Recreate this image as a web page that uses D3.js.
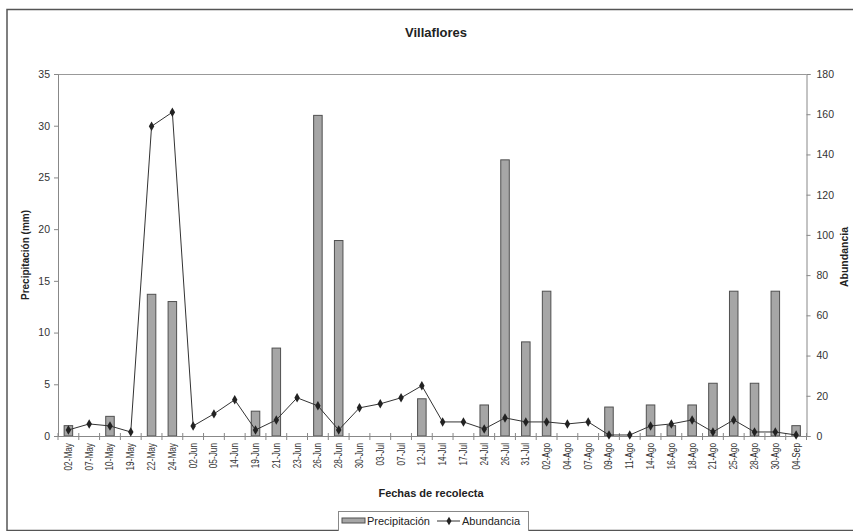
<!DOCTYPE html>
<html><head><meta charset="utf-8">
<script src="https://cdn.jsdelivr.net/npm/d3@7"></script>
<style>body{margin:0;background:#fff}svg{display:block;font-family:"Liberation Sans",Arial,sans-serif}</style>
</head><body>
<svg id="c" width="853" height="531"></svg>
<script>
const categories = ["02-May","07-May","10-May","19-May","22-May","24-May","02-Jun","05-Jun","14-Jun","19-Jun","21-Jun","23-Jun","26-Jun","28-Jun","30-Jun","03-Jul","07-Jul","12-Jul","14-Jul","17-Jul","24-Jul","26-Jul","31-Jul","02-Ago","04-Ago","07-Ago","09-Ago","11-Ago","14-Ago","16-Ago","18-Ago","21-Ago","25-Ago","28-Ago","30-Ago","04-Sep"];
const precipitacion = [1.0,0,1.9,0,13.7,13.0,0,0,0,2.4,8.5,0,31.0,18.9,0,0,0,3.6,0,0,3.0,26.7,9.1,14.0,0,0,2.8,0,3.0,1.0,3.0,5.1,14.0,5.1,14.0,1.0];
const abundancia = [3,6,5,2,154,161,5,11,18,3,8,19,15,3,14,16,19,25,7,7,3.5,9,7,7,6,7,0.5,0.5,5,6,8,2,8,2,2,0.5];
const leftTicks = [0,5,10,15,20,25,30,35];
const rightTicks = [0,20,40,60,80,100,120,140,160,180];

const svg = d3.select("#c");
const L = 58, R = 806.5, T = 74, B = 436;

// outer border
svg.append("rect").attr("x",7).attr("y",9.5).attr("width",900).attr("height",521)
  .attr("fill","none").attr("stroke","#555").attr("stroke-width",1.5);

const x = d3.scaleBand().domain(categories).range([L,R]).padding(0);
const yL = d3.scaleLinear().domain([0,35]).range([B,T]);
const yR = d3.scaleLinear().domain([0,180]).range([B,T]);

// plot top border
svg.append("line").attr("x1",L).attr("x2",R).attr("y1",T+0.5).attr("y2",T+0.5).attr("stroke","#999");

// bars
const bw = x.bandwidth()*0.41;
svg.append("g").selectAll("rect").data(categories.map((c,i)=>({c,v:precipitacion[i]})).filter(d=>d.v>0))
  .join("rect")
  .attr("x",d=>x(d.c)+x.bandwidth()/2-bw/2)
  .attr("y",d=>yL(d.v))
  .attr("width",bw)
  .attr("height",d=>B-yL(d.v))
  .attr("fill","#a6a6a6").attr("stroke","#505050").attr("stroke-width",1);

// left axis
const gL = svg.append("g").attr("transform",`translate(${L},0)`)
  .call(d3.axisLeft(yL).tickValues(leftTicks).tickSize(4).tickPadding(4));
// right axis
const gR = svg.append("g").attr("transform",`translate(${R},0)`)
  .call(d3.axisRight(yR).tickValues(rightTicks).tickSize(4).tickPadding(6));
[gL,gR].forEach(g=>{
  g.select(".domain").attr("stroke","#888");
  g.selectAll(".tick line").attr("stroke","#888");
  g.selectAll(".tick text").attr("fill","#333").attr("font-size",10.5).attr("font-family","Liberation Sans, Arial, sans-serif");
});

// x axis
const gX = svg.append("g").attr("transform",`translate(0,${B})`);
gX.append("line").attr("x1",L).attr("x2",R).attr("y1",0.5).attr("y2",0.5).attr("stroke","#888");
const bounds = categories.map(c=>x(c)).concat([R]);
gX.selectAll("line.tk").data(bounds).join("line").attr("class","tk")
  .attr("x1",d=>d).attr("x2",d=>d).attr("y1",-3).attr("y2",4).attr("stroke","#888");
gX.selectAll("text").data(categories).join("text")
  .attr("transform",d=>`translate(${x(d)+x.bandwidth()/2+3.5},7) rotate(-90) scale(0.75,1)`)
  .attr("text-anchor","end").attr("font-size",11).attr("fill","#333").text(d=>d);

// line
const line = d3.line().x((d,i)=>x(categories[i])+x.bandwidth()/2).y(d=>yR(d));
svg.append("path").datum(abundancia).attr("d",line).attr("fill","none").attr("stroke","#333").attr("stroke-width",1);
svg.append("g").selectAll("path").data(abundancia).join("path")
  .attr("transform",(d,i)=>`translate(${x(categories[i])+x.bandwidth()/2},${yR(d)})`)
  .attr("d",d3.symbol().type(d3.symbolDiamond).size(26)).attr("fill","#222");

// titles
svg.append("text").attr("x",436).attr("y",37).attr("text-anchor","middle").attr("font-weight","bold").attr("font-size",13).attr("fill","#222").text("Villaflores");
svg.append("text").attr("transform","translate(29,255) rotate(-90)").attr("text-anchor","middle").attr("font-weight","bold").attr("font-size",10).attr("fill","#222").text("Precipitación (mm)");
svg.append("text").attr("transform","translate(848,257) rotate(-90)").attr("text-anchor","middle").attr("font-weight","bold").attr("font-size",10.5).attr("fill","#222").text("Abundancia");
svg.append("text").attr("x",431).attr("y",497).attr("text-anchor","middle").attr("font-weight","bold").attr("font-size",11).attr("fill","#222").text("Fechas de recolecta");

// legend
const lg = svg.append("g");
lg.append("rect").attr("x",338.5).attr("y",511.5).attr("width",190).attr("height",30).attr("fill","#fff").attr("stroke","#888");
lg.append("rect").attr("x",342).attr("y",518).attr("width",23).attr("height",5).attr("fill","#a6a6a6").attr("stroke","#505050");
lg.append("text").attr("x",367).attr("y",525).attr("font-size",11).attr("fill","#222").text("Precipitación");
lg.append("line").attr("x1",437).attr("x2",460).attr("y1",521).attr("y2",521).attr("stroke","#333");
lg.append("path").attr("transform","translate(449,521)").attr("d",d3.symbol().type(d3.symbolDiamond).size(22)).attr("fill","#222");
lg.append("text").attr("x",462).attr("y",525).attr("font-size",11).attr("fill","#222").text("Abundancia");
</script>
</body></html>
